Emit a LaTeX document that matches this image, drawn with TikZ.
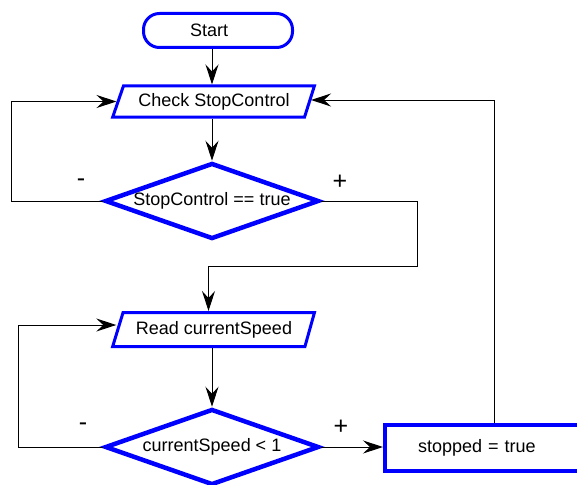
\documentclass[tikz,border=0pt]{standalone}
\usepackage{fontspec}
\setmainfont{Liberation Sans}
\usetikzlibrary{shapes.geometric,arrows.meta}

\begin{document}
\begin{tikzpicture}[x=1pt,y=-1pt,
    txt/.style={font=\fontsize{18}{21}\selectfont},
    sign/.style={font=\fontsize{25}{27}\selectfont, inner sep=0pt},
    terminal/.style={txt, draw=blue, line width=3pt, rectangle, rounded corners=16pt,
        minimum height=34pt, inner ysep=0pt, align=left},
    io/.style={txt, draw=blue, line width=3pt, trapezium, trapezium left angle=62,
        trapezium right angle=116, trapezium stretches=true, inner sep=0pt},
    test/.style={txt, draw=blue, line width=4.5pt, diamond, aspect=2.85, inner sep=0pt,
        minimum width=214pt, minimum height=76pt},
    process/.style={txt, draw=blue, line width=4pt, rectangle, minimum height=46pt,
        inner ysep=0pt, align=left},
    arr/.style={line width=1pt, -{Stealth[length=20pt, width=13pt, inset=7pt]}},
    wire/.style={line width=1pt}]
    \useasboundingbox (0,0) rectangle (577,484);

    \node[terminal, text width=56pt, inner xsep=46.5pt] (start) at (218,30.5) {Start};
    \node[io, minimum width=202pt, minimum height=31pt] (check) at (214,101.5) {Check StopControl};
    \node[test] (stopctl) at (212,201) {StopControl == true};
    \node[io, minimum width=202pt, minimum height=34pt] (read) at (214,329.5) {Read currentSpeed};
    \node[test] (speed) at (212,447) {currentSpeed < 1};
    \node[process, text width=152pt, inner xsep=33pt] (stopped) at (494,448) {stopped = true};

    \coordinate (bend) at (417,266);

    % main column
    \draw[arr] (start.south -| stopctl) -- (check.north -| stopctl);
    \draw[arr] (check.south -| stopctl) -- (stopctl.north);
    \draw[arr] (read.south -| speed) -- (speed.north);

    % first test: - back to the check, + on to the reading
    \draw[arr] (stopctl.west) -- ++(-91,0) |- (check.west);
    \draw[arr] (stopctl.east) -| (bend) -| ([xshift=-5.5pt]read.north);
    \node[sign] (minus1) at (81,183) {-};
    \node[sign] (plus1) at (340,182) {+};

    % second test: - read again, + stop
    \draw[arr] (speed.west) -- ++(-84,0) |- ([yshift=4.5pt]read.west);
    \draw[arr] (speed.east) -- (speed.east -| stopped.west);
    \node[sign] (minus2) at (83,427) {-};
    \node[sign] (plus2) at (341,427) {+};

    % back to the top
    \draw[arr] (stopped.north) |- ([yshift=1.5pt]check.east);
\end{tikzpicture}
\end{document}
